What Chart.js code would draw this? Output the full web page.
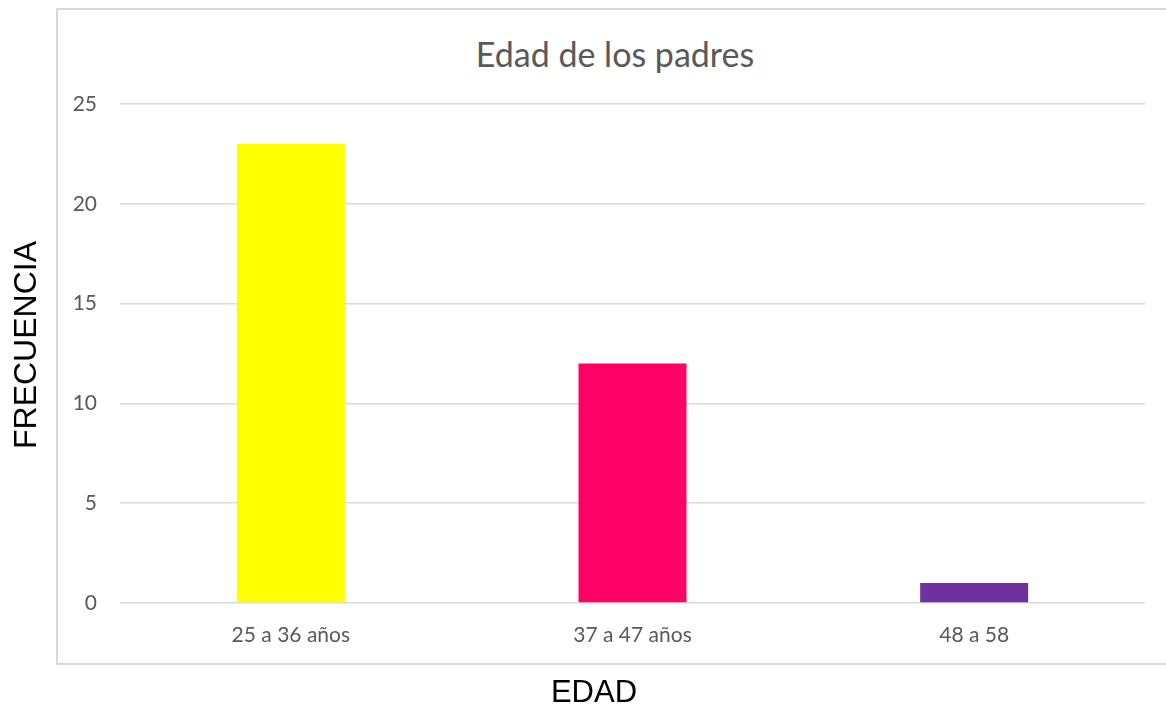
<!DOCTYPE html>
<html>
<head>
<meta charset="utf-8">
<script src="https://cdn.jsdelivr.net/npm/chart.js@4/dist/chart.umd.min.js"></script>
<style>
  html, body { margin: 0; padding: 0; background: #fff; overflow: hidden; }
  #wrap { position: relative; width: 1166px; height: 709px; }
  /* Excel-style chart frame, its right edge runs past the window */
  #frame {
    position: absolute; left: 56px; top: 8px; width: 1114px; height: 653px;
    border: 2px solid #D9D9D9;
  }
  #title {
    position: absolute; left: 0; right: 0; top: 24px;
    text-align: center; font-family: Lato, sans-serif; font-size: 34px;
    line-height: 40px; color: #595959;
  }
  /* axis titles sit outside the frame, like in the original sheet */
  .axis-title {
    position: absolute; font-family: 'Liberation Sans', Arial, sans-serif;
    color: #000; white-space: nowrap; line-height: 1;
  }
  #xTitle { left: 594px; top: 691px; font-size: 31px; transform: translate(-50%, -50%); }
  #yTitle { left: 25px; top: 345px; font-size: 32px; transform: translate(-50%, -50%) rotate(-90deg); }
  #myChart { position: absolute; left: 0; top: 0; }
</style>
</head>
<body>
<div id="wrap">
  <div id="frame"><div id="title">Edad de los padres</div></div>
  <canvas id="myChart" width="1166" height="709"></canvas>
  <div class="axis-title" id="xTitle">EDAD</div>
  <div class="axis-title" id="yTitle">FRECUENCIA</div>
</div>
<script>
// values
var categoryNames = ['25 a 36 años', '37 a 47 años', '48 a 58'];
var categoryVotes = [23, 12, 1];
var categoryColors = ['#FFFF00', '#FF0066', '#7030A0'];
var yTicks = [0, 5, 10, 15, 20, 25];

var ctx = document.getElementById('myChart');

var myBarChart = new Chart(ctx, {
    type: 'bar',
    data: {
        labels: categoryNames,
        datasets: [{
            data: categoryVotes,
            backgroundColor: categoryColors,
            barPercentage: 0.316,
            categoryPercentage: 1
        }]
    },
    options: {
        responsive: false,
        animation: false,
        layout: { padding: { top: 104, left: 6, right: 21, bottom: 0 } },
        plugins: {
            legend: { display: false },
            tooltip: { enabled: false }
        },
        scales: {
            x: {
                grid: { display: false, drawTicks: false },
                border: { display: false },
                ticks: {
                    color: '#595959',
                    padding: 20,
                    font: { family: 'Lato', size: 21 }
                },
                // height reserved for the ticks and the EDAD title below
                afterFit: function(scale) { scale.height = 106; }
            },
            y: {
                min: 0,
                max: yTicks[yTicks.length - 1],
                afterBuildTicks: function(scale) {
                    scale.ticks = yTicks.map(function(v) { return { value: v }; });
                },
                grid: { color: '#D9D9D9', lineWidth: 1.5, drawTicks: false },
                border: { display: false },
                ticks: {
                    color: '#595959',
                    padding: 23,
                    font: { family: 'Lato', size: 21 }
                },
                afterFit: function(scale) { scale.width = 114; }
            }
        }
    }
});
</script>
</body>
</html>
